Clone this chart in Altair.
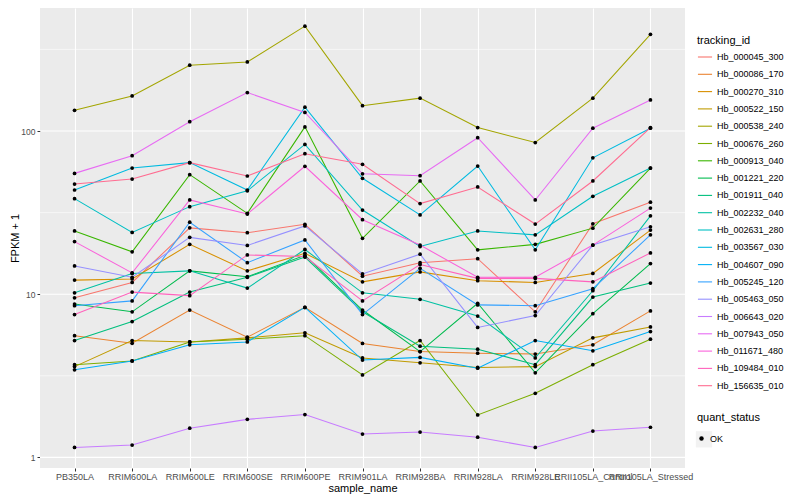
import altair as alt
import pandas as pd

samples = ["PB350LA", "RRIM600LA", "RRIM600LE", "RRIM600SE", "RRIM600PE",
           "RRIM901LA", "RRIM928BA", "RRIM928LA", "RRIM928LE",
           "RRII105LA_Control", "RRII105LA_Stressed"]

tracking_ids = ["Hb_000045_300", "Hb_000086_170", "Hb_000270_310", "Hb_000522_150",
                "Hb_000538_240", "Hb_000676_260", "Hb_000913_040", "Hb_001221_220",
                "Hb_001911_040", "Hb_002232_040", "Hb_002631_280", "Hb_003567_030",
                "Hb_004607_090", "Hb_005245_120", "Hb_005463_050", "Hb_006643_020",
                "Hb_007943_050", "Hb_011671_480", "Hb_109484_010", "Hb_156635_010"]

palette = ["#F8766D", "#EA8331", "#D89000", "#C09B00", "#A3A500", "#7CAE00",
           "#39B600", "#00BB4E", "#00BF7D", "#00C1A3", "#00BFC4", "#00BAE0",
           "#00B0F6", "#35A2FF", "#9590FF", "#C77CFF", "#E76BF3", "#FA62DB",
           "#FF62BC", "#FF6C91"]

status_levels = ["OK"]

hb_000045_300 = [9.5, 11.8, 25.5, 23.8, 26.8, 12.9, 15.6, 16.5, 7.8, 27.0, 36.6]
hb_000086_170 = [5.57, 5.0, 8.0, 5.45, 8.3, 4.99, 4.45, 4.35, 4.3, 4.9, 7.9]
hb_000270_310 = [12.2, 12.4, 20.2, 13.9, 17.8, 11.9, 13.7, 12.1, 11.8, 13.4, 24.7]
hb_000522_150 = [3.6, 5.2, 5.1, 5.4, 5.8, 4.07, 3.8, 3.56, 3.6, 5.4, 6.3]
hb_000538_240 = [134, 164, 253, 265, 439, 143, 159, 105, 85, 159, 391]
hb_000676_260 = [3.7, 3.9, 5.1, 5.3, 5.57, 3.2, 5.2, 1.82, 2.47, 3.7, 5.3]
hb_000913_040 = [24.4, 18.2, 54, 31.3, 106, 22, 49.4, 18.7, 20.2, 25.4, 59.3]
hb_001221_220 = [8.7, 7.8, 13.9, 12.8, 17.3, 8.0, 4.45, 8.8, 3.3, 7.6, 15.4]
hb_001911_040 = [5.2, 6.8, 10.3, 12.7, 16.9, 7.8, 4.8, 4.6, 3.7, 9.6, 11.7]
hb_002232_040 = [10.2, 13.4, 13.9, 10.9, 18.8, 10.2, 9.3, 7.35, 4.07, 10.5, 30.2]
hb_002631_280 = [38.5, 23.9, 34.4, 43, 82.8, 32.8, 19.6, 24.4, 23.1, 39.8, 59.3]
hb_003567_030 = [43.5, 59.3, 64, 43.5, 140, 51.3, 30.6, 61, 18.7, 68.5, 104]
hb_004607_090 = [3.44, 3.9, 4.9, 5.1, 8.3, 3.95, 4.1, 3.52, 5.2, 4.5, 5.9]
hb_005245_120 = [8.5, 9.1, 27.6, 15.6, 21.5, 7.5, 14.4, 8.6, 8.5, 10.8, 23.1]
hb_005463_050 = [14.9, 12.7, 22.3, 19.9, 26.2, 13.3, 17.6, 6.26, 7.4, 20.0, 25.9]
hb_006643_020 = [1.15, 1.19, 1.51, 1.71, 1.83, 1.39, 1.43, 1.33, 1.15, 1.45, 1.53]
hb_007943_050 = [55, 70.6, 114, 172, 130, 54.7, 53.2, 91, 37.8, 104, 155]
hb_011671_480 = [21.0, 13.5, 37.8, 31.0, 60.8, 28.6, 20.0, 12.7, 12.7, 20.0, 33.7]
hb_109484_010 = [7.5, 10.3, 9.8, 17.4, 17.0, 9.1, 15.2, 12.5, 12.5, 11.9, 17.9]
hb_156635_010 = [47.3, 50.8, 64, 53, 72.6, 62.5, 35.9, 45.4, 26.9, 49.4, 105]

all_series = [hb_000045_300, hb_000086_170, hb_000270_310, hb_000522_150,
              hb_000538_240, hb_000676_260, hb_000913_040, hb_001221_220,
              hb_001911_040, hb_002232_040, hb_002631_280, hb_003567_030,
              hb_004607_090, hb_005245_120, hb_005463_050, hb_006643_020,
              hb_007943_050, hb_011671_480, hb_109484_010, hb_156635_010]

major_breaks = [1, 10, 100]
minor_breaks = [3.1623, 31.623, 316.23]

rows = []
for tid, vals in zip(tracking_ids, all_series):
    for s, v in zip(samples, vals):
        rows.append({"tracking_id": tid, "sample_name": s, "fpkm": v,
                     "quant_status": "OK"})
df = pd.DataFrame(rows)

FONT = "Liberation Sans"
NARROW = "'Liberation Sans Narrow', 'Arial Narrow', 'Liberation Sans'"
KEY_BG = "#F2F2F2"

x_enc = alt.X("sample_name:N", sort=samples,
              scale=alt.Scale(type="point", padding=0.6),
              axis=alt.Axis(title="sample_name", labelAngle=0, grid=True,
                            gridColor="white", gridWidth=1.1,
                            labelFont=NARROW, labelFontSize=9,
                            labelPadding=1, titlePadding=1))
y_scale = alt.Scale(type="log", domain=[0.861, 567.2], nice=False)
y_enc = alt.Y("fpkm:Q", scale=y_scale,
              axis=alt.Axis(title="FPKM + 1", values=major_breaks, grid=False,
                            format="~g", labelFontSize=8.5, labelPadding=2,
                            titleX=-20))

minor = alt.Chart(pd.DataFrame({"v": minor_breaks})).mark_rule(
    color="white", strokeWidth=0.55).encode(y=alt.Y("v:Q", scale=y_scale))
major = alt.Chart(pd.DataFrame({"v": major_breaks})).mark_rule(
    color="white", strokeWidth=1.1).encode(y=alt.Y("v:Q", scale=y_scale))

# grey key backgrounds (ggplot style legend keys); no marks drawn
key_bg = alt.Chart(df).transform_filter("false").mark_square().encode(
    x=x_enc, y=y_enc,
    color=alt.Color("tracking_id:N",
                    scale=alt.Scale(domain=tracking_ids,
                                    range=[KEY_BG] * len(tracking_ids)),
                    legend=alt.Legend(title=None, orient="none",
                                      legendX=655.5, legendY=40.8,
                                      symbolType="square", symbolSize=266,
                                      symbolStrokeWidth=0, symbolOpacity=1,
                                      rowPadding=1.0, labelExpr="''",
                                      labelFontSize=9)),
    fill=alt.Fill("quant_status:N",
                  scale=alt.Scale(domain=status_levels, range=[KEY_BG]),
                  legend=alt.Legend(title=None, orient="none",
                                    legendX=655.5, legendY=422.8,
                                    symbolType="square", symbolSize=266,
                                    symbolStrokeWidth=0, symbolOpacity=1,
                                    labelExpr="''", labelFontSize=9)))

lines = alt.Chart(df).mark_line(strokeWidth=1.05).encode(
    x=x_enc, y=y_enc,
    stroke=alt.Stroke("tracking_id:N",
                      scale=alt.Scale(domain=tracking_ids, range=palette),
                      legend=alt.Legend(title="tracking_id", orient="none",
                                        legendX=657, legendY=27,
                                        symbolType="stroke",
                                        symbolStrokeWidth=1.1,
                                        symbolSize=200, rowPadding=4.3,
                                        labelFontSize=9, titleFontSize=11,
                                        titlePadding=3)),
    detail="tracking_id:N")

points = alt.Chart(df).mark_point(filled=True, size=14, color="black",
                                  opacity=1).encode(
    x=x_enc, y=y_enc,
    shape=alt.Shape("quant_status:N",
                    scale=alt.Scale(domain=status_levels, range=["circle"]),
                    legend=alt.Legend(title="quant_status", orient="none",
                                      legendX=657, legendY=404,
                                      symbolSize=20, symbolFillColor="black",
                                      symbolStrokeColor="black",
                                      labelFontSize=9, titleFontSize=11,
                                      titlePadding=11)))

chart = alt.layer(minor, major, key_bg, lines, points).resolve_scale(
    color="independent", fill="independent", stroke="independent",
    shape="independent",
).properties(
    width=645, height=460, background="white",
    padding={"left": 32, "top": 0, "right": 107, "bottom": 28},
    autosize=alt.AutoSizeParams(type="none"),
).configure_view(fill="#EBEBEB", stroke=None).configure_axis(
    domain=False, tickColor="#333333", tickSize=3, labelColor="#4D4D4D",
    labelFont=FONT, titleFont=FONT, titleFontSize=11,
    titleFontWeight="normal", titleColor="black",
).configure_legend(
    labelFont=FONT, titleFont=FONT, titleFontWeight="normal",
    labelColor="black", titleColor="black",
)

chart.save("out.html", embed_options={"renderer": "svg", "actions": False})
